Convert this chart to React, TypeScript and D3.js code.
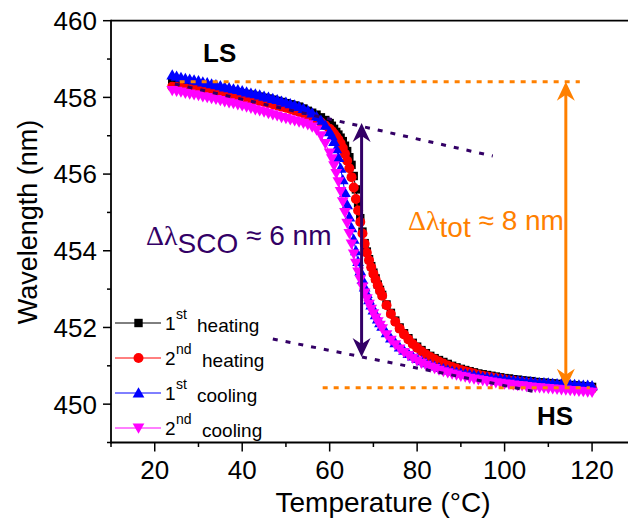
import React from 'react';
import * as d3 from 'd3';

// ---------- data ----------
const temperature = [
  24, 25, 26, 27, 28, 29, 30, 31, 32, 33, 34, 35, 36, 37, 38, 39, 40, 41, 42, 43, 44, 45, 46, 47, 48, 49, 50, 51, 52, 53, 54, 55, 56, 57, 58, 59, 60,
  60.5, 61, 61.5, 62, 62.5, 63, 63.5, 64, 64.5, 65, 65.5, 66, 66.5, 67, 67.5, 68, 68.5, 69, 69.5, 70, 70.5, 71, 71.5, 72,
  73, 74, 75, 76, 77, 78, 79, 80, 81, 82, 83, 84, 85, 86, 87, 88, 89, 90, 91, 92, 93, 94, 95, 96, 97, 98, 99, 100,
  101, 102, 103, 104, 105, 106, 107, 108, 109, 110, 111, 112, 113, 114, 115, 116, 117, 118, 119, 120,
];

const heating1 = [
  458.38, 458.37, 458.36, 458.34, 458.33, 458.31, 458.30, 458.28, 458.26, 458.25, 458.23, 458.21, 458.19, 458.17, 458.15, 458.13, 458.11, 458.09, 458.07, 458.04, 458.02, 457.99, 457.97, 457.94, 457.91, 457.88, 457.85, 457.82, 457.79, 457.76, 457.71, 457.65, 457.60, 457.55, 457.48, 457.41, 457.33,
  457.26, 457.18, 457.10, 457.03, 456.95, 456.86, 456.74, 456.60, 456.44, 456.24, 455.95, 455.60, 455.24, 454.85, 454.50, 454.20, 453.98, 453.78, 453.60, 453.43, 453.28, 453.12, 452.98, 452.85,
  452.60, 452.38, 452.18, 452.00, 451.85, 451.72, 451.60, 451.50, 451.41, 451.33, 451.26, 451.20, 451.15, 451.10, 451.05, 451.00, 450.96, 450.92, 450.89, 450.86, 450.83, 450.80, 450.78, 450.76, 450.74, 450.72, 450.70, 450.68,
  450.67, 450.65, 450.64, 450.62, 450.61, 450.60, 450.58, 450.57, 450.56, 450.55, 450.54, 450.53, 450.52, 450.51, 450.50, 450.49, 450.48, 450.47, 450.46, 450.45,
];

const heating2 = [
  458.28, 458.27, 458.25, 458.24, 458.22, 458.21, 458.19, 458.17, 458.16, 458.14, 458.12, 458.10, 458.08, 458.06, 458.04, 458.02, 458.00, 457.98, 457.95, 457.93, 457.90, 457.88, 457.85, 457.82, 457.79, 457.76, 457.73, 457.70, 457.66, 457.62, 457.58, 457.53, 457.48, 457.42, 457.35, 457.27, 457.18,
  457.12, 457.05, 456.98, 456.90, 456.80, 456.68, 456.53, 456.35, 456.15, 455.92, 455.65, 455.35, 455.05, 454.75, 454.45, 454.18, 453.95, 453.75, 453.57, 453.40, 453.25, 453.10, 452.96, 452.83,
  452.58, 452.35, 452.15, 451.97, 451.82, 451.69, 451.57, 451.47, 451.38, 451.30, 451.23, 451.17, 451.11, 451.06, 451.01, 450.97, 450.93, 450.89, 450.86, 450.83, 450.80, 450.77, 450.74, 450.72, 450.70, 450.68, 450.66, 450.64,
  450.62, 450.61, 450.59, 450.58, 450.56, 450.55, 450.53, 450.52, 450.51, 450.50, 450.49, 450.48, 450.47, 450.46, 450.45, 450.44, 450.43, 450.42, 450.41, 450.40,
];

const cooling1 = [
  458.58, 458.55, 458.52, 458.49, 458.47, 458.45, 458.43, 458.40, 458.38, 458.35, 458.33, 458.30, 458.27, 458.25, 458.22, 458.20, 458.17, 458.14, 458.11, 458.09, 458.06, 458.03, 458.00, 457.97, 457.94, 457.90, 457.87, 457.83, 457.80, 457.76, 457.71, 457.66, 457.59, 457.50, 457.40, 457.27, 457.10,
  457.00, 456.85, 456.66, 456.43, 456.15, 455.85, 455.52, 455.20, 454.88, 454.60, 454.30, 454.00, 453.72, 453.47, 453.25, 453.05, 452.88, 452.72, 452.58, 452.45, 452.33, 452.22, 452.12, 452.03,
  451.86, 451.72, 451.60, 451.49, 451.40, 451.32, 451.25, 451.19, 451.13, 451.08, 451.03, 450.99, 450.95, 450.92, 450.89, 450.86, 450.83, 450.81, 450.79, 450.77, 450.75, 450.73, 450.71, 450.70, 450.68, 450.67, 450.66, 450.64,
  450.63, 450.62, 450.61, 450.60, 450.59, 450.58, 450.57, 450.56, 450.56, 450.55, 450.54, 450.53, 450.53, 450.52, 450.51, 450.51, 450.50, 450.49, 450.49, 450.48,
];

const cooling2 = [
  458.18, 458.16, 458.14, 458.11, 458.09, 458.07, 458.05, 458.02, 458.00, 457.97, 457.95, 457.92, 457.89, 457.86, 457.84, 457.81, 457.78, 457.75, 457.72, 457.68, 457.65, 457.62, 457.58, 457.55, 457.52, 457.48, 457.45, 457.42, 457.39, 457.36, 457.33, 457.29, 457.23, 457.15, 457.00, 456.80, 456.55,
  456.40, 456.22, 456.02, 455.80, 455.55, 455.28, 455.00, 454.72, 454.45, 454.18, 453.92, 453.68, 453.45, 453.25, 453.06, 452.90, 452.75, 452.61, 452.48, 452.36, 452.25, 452.15, 452.06, 451.97,
  451.81, 451.67, 451.55, 451.44, 451.35, 451.27, 451.20, 451.13, 451.07, 451.02, 450.97, 450.93, 450.89, 450.85, 450.82, 450.79, 450.76, 450.73, 450.71, 450.68, 450.66, 450.64, 450.62, 450.60, 450.58, 450.56, 450.55, 450.53,
  450.52, 450.50, 450.49, 450.48, 450.46, 450.45, 450.44, 450.43, 450.42, 450.41, 450.40, 450.39, 450.38, 450.37, 450.36, 450.35, 450.34, 450.33, 450.32, 450.31,
];

const legendNumbers = ['1', '2', '1', '2'];
const legendSuffixes = ['st', 'nd', 'st', 'nd'];
const legendWords = ['heating', 'heating', 'cooling', 'cooling'];
const seriesColors = ['#000000', '#FF0000', '#0000FF', '#FF00FF'];
const seriesShapes = ['square', 'circle', 'triangle', 'triangleDown'];

const xTicks = [20, 40, 60, 80, 100, 120];
const xMinorTicks = [10, 30, 50, 70, 90, 110, 130];
const yTicks = [450, 452, 454, 456, 458, 460];
const yMinorTicks = [449, 451, 453, 455, 457, 459];

// annotation anchors in data units
const lsLevel = 458.41;
const hsLevel = 450.43;
const totArrowT = 114;
const scoArrowT = 67.3;
const scoTop = 457.33;
const scoBottom = 451.23;
const upperTangent = [[24.6, 458.35], [97.3, 456.47]];
const lowerTangent = [[47, 451.7], [108, 450.3]];

const FONT = "'Liberation Sans', Arial, sans-serif";
const SERIF = "'Liberation Serif', 'Times New Roman', serif";
const PURPLE = '#330066';
const ORANGE = '#FF8000';

const W = 628;
const H = 522;

function Marker({ shape, x, y, color }: { shape: string; x: number; y: number; color: string }) {
  if (shape === 'square') {
    return <rect x={x - 4.2} y={y - 4.2} width={8.4} height={8.4} fill={color} />;
  }
  if (shape === 'circle') {
    return <circle cx={x} cy={y} r={5} fill={color} />;
  }
  const sym = d3.symbol().type(d3.symbolTriangle).size(60)();
  const rot = shape === 'triangleDown' ? 180 : 0;
  const dy = shape === 'triangleDown' ? -1 : 1;
  return <path d={sym as string} transform={`translate(${x},${y + dy}) rotate(${rot})`} fill={color} />;
}

function Arrow({ x, y1, y2, color }: { x: number; y1: number; y2: number; color: string }) {
  const hw = 9;
  const hl = 19;
  const notch = 13;
  return (
    <g>
      <line x1={x} x2={x} y1={y1 + 8} y2={y2 - 8} stroke={color} strokeWidth={3} />
      <path d={`M${x},${y1} L${x + hw},${y1 + hl} L${x},${y1 + notch} L${x - hw},${y1 + hl} Z`} fill={color} />
      <path d={`M${x},${y2} L${x + hw},${y2 - hl} L${x},${y2 - notch} L${x - hw},${y2 - hl} Z`} fill={color} />
    </g>
  );
}

export default function App() {
  const x = d3.scaleLinear().domain([10, 130]).range([111, 635.8]);
  const y = d3.scaleLinear().domain([449, 460]).range([442.5, 20.7]);
  const series = [heating1, heating2, cooling1, cooling2];
  const line = d3
    .line<number>()
    .x((_, i) => x(temperature[i]))
    .y((d) => y(d));

  const x0 = x(10);
  const yb = y(449);
  const yt = y(460);

  return (
    <div style={{ position: 'fixed', left: 0, top: 0, width: W, height: H, background: '#fff' }}>
      <svg width={W} height={H} style={{ display: 'block' }} fontFamily={FONT}>
        <rect width={W} height={H} fill="#fff" />

        {/* series */}
        {series.map((s, si) => (
          <g key={si}>
            <path d={line(s) as string} fill="none" stroke={seriesColors[si]} strokeWidth={1} />
            {s.map((v, i) => (
              <Marker key={i} shape={seriesShapes[si]} x={x(temperature[i])} y={y(v)} color={seriesColors[si]} />
            ))}
          </g>
        ))}

        {/* dotted guide lines */}
        <line x1={x(25.7)} x2={x(117.2)} y1={y(lsLevel)} y2={y(lsLevel)} stroke={ORANGE} strokeWidth={3} strokeDasharray="5,6" />
        <line x1={x(58.4)} x2={x(119.5)} y1={y(hsLevel)} y2={y(hsLevel)} stroke={ORANGE} strokeWidth={3} strokeDasharray="5,6" />
        <line x1={x(upperTangent[0][0])} y1={y(upperTangent[0][1])} x2={x(upperTangent[1][0])} y2={y(upperTangent[1][1])} stroke={PURPLE} strokeWidth={3} strokeDasharray="5,8" />
        <line x1={x(lowerTangent[0][0])} y1={y(lowerTangent[0][1])} x2={x(lowerTangent[1][0])} y2={y(lowerTangent[1][1])} stroke={PURPLE} strokeWidth={3} strokeDasharray="5,8" />

        {/* arrows */}
        <Arrow x={x(scoArrowT)} y1={y(scoTop)} y2={y(scoBottom)} color={PURPLE} />
        <Arrow x={x(totArrowT)} y1={y(lsLevel)} y2={y(hsLevel)} color={ORANGE} />

        {/* axes frame */}
        <line x1={x0} x2={W} y1={yt} y2={yt} stroke="#000" strokeWidth={1.8} />
        <line x1={x0} x2={W} y1={yb} y2={yb} stroke="#000" strokeWidth={1.8} />
        <line x1={x0} x2={x0} y1={yt - 0.9} y2={yb + 0.9} stroke="#000" strokeWidth={1.8} />

        {/* y ticks */}
        {yTicks.map((t) => (
          <g key={t}>
            <line x1={x0 - 8} x2={x0} y1={y(t)} y2={y(t)} stroke="#000" strokeWidth={1.5} />
            <text x={97} y={y(t)} dy="0.36em" textAnchor="end" fontSize={26}>
              {t}
            </text>
          </g>
        ))}
        {yMinorTicks.map((t) => (
          <line key={t} x1={x0 - 4} x2={x0} y1={y(t)} y2={y(t)} stroke="#000" strokeWidth={1.5} />
        ))}

        {/* x ticks */}
        {xTicks.map((t) => (
          <g key={t}>
            <line x1={x(t)} x2={x(t)} y1={yb} y2={yb + 9} stroke="#000" strokeWidth={1.5} />
            <text x={x(t)} y={479} textAnchor="middle" fontSize={26}>
              {t}
            </text>
          </g>
        ))}
        {xMinorTicks.map((t) => (
          <line key={t} x1={x(t)} x2={x(t)} y1={yb} y2={yb + 4.5} stroke="#000" strokeWidth={1.5} />
        ))}

        {/* axis titles */}
        <text x={383} y={512} textAnchor="middle" fontSize={28}>
          Temperature (°C)
        </text>
        <text transform="translate(37,222) rotate(-90)" textAnchor="middle" fontSize={27}>
          Wavelength (nm)
        </text>

        {/* LS / HS labels */}
        <text x={203} y={62} fontSize={26} fontWeight="bold">LS</text>
        <text x={537} y={425} fontSize={26} fontWeight="bold">HS</text>

        {/* Δλ annotations */}
        <text x={146} y={245} fontSize={28} fill={PURPLE}>
          <tspan fontFamily={SERIF}>Δλ</tspan>
          <tspan dy={8}>SCO</tspan>
          <tspan dy={-8}> ≈ 6 nm</tspan>
        </text>
        <text x={408} y={230} fontSize={28} fill={ORANGE}>
          <tspan fontFamily={SERIF}>Δλ</tspan>
          <tspan dy={7}>tot</tspan>
          <tspan dy={-7}> ≈ 8 nm</tspan>
        </text>

        {/* legend */}
        {legendWords.map((w, i) => {
          const ly = 323 + i * 35;
          return (
            <g key={i}>
              <line x1={115} x2={161} y1={ly} y2={ly} stroke={seriesColors[i]} strokeWidth={1} />
              <Marker shape={seriesShapes[i]} x={138.5} y={ly} color={seriesColors[i]} />
              <text x={165} y={ly + 7} fontSize={19}>
                {legendNumbers[i]}
              </text>
              <text x={176} y={ly - 4} fontSize={14}>
                {legendSuffixes[i]}
              </text>
              <text x={legendSuffixes[i] === 'st' ? 197 : 202} y={ly + 9} fontSize={19}>
                {w}
              </text>
            </g>
          );
        })}
      </svg>
    </div>
  );
}
